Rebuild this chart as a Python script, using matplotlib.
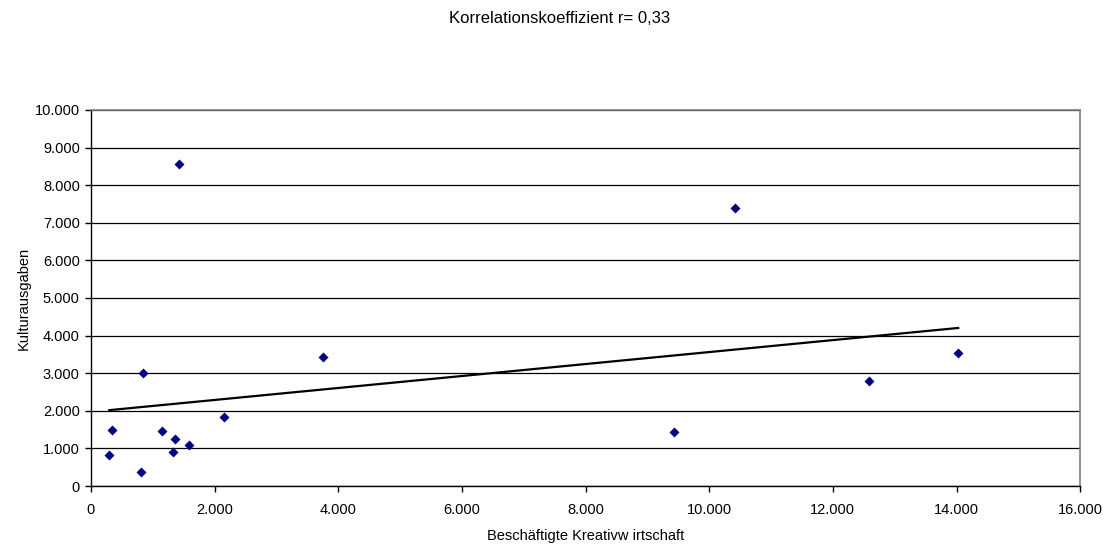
import numpy as np
import matplotlib
matplotlib.use("Agg")
import matplotlib.pyplot as plt
from matplotlib.ticker import FuncFormatter, MultipleLocator

plt.rcParams['font.family'] = ['Liberation Sans', 'DejaVu Sans']

# Beschäftigte in der Kreativwirtschaft vs. Kulturausgaben
beschaeftigte = [298, 336, 812, 842, 1142, 1321, 1364, 1429, 1580, 2149,
                 3747, 9427, 10411, 12589, 14027]
kulturausgaben = [823, 1496, 372, 3000, 1469, 894, 1248, 8575, 1080, 1823,
                  3425, 1426, 7390, 2780, 3532]

title_text = "Korrelationskoeffizient r= 0,33"
x_label = "Beschäftigte Kreativw irtschaft"
y_label = "Kulturausgaben"

x = np.array(beschaeftigte, dtype=float)
y = np.array(kulturausgaben, dtype=float)

fig = plt.figure(figsize=(11.09, 5.47), dpi=100)
ax = fig.add_axes([0.082, 0.1115, 0.892, 0.6875])

# horizontal grid
ax.set_axisbelow(True)
ax.yaxis.grid(True, color='black', linewidth=0.9)
ax.xaxis.grid(False)

ax.scatter(x, y, marker='D', s=26, color='#000080', zorder=3, linewidths=0)

# linear trend line over the data range
slope, intercept = np.polyfit(x, y, 1)
xs = np.array([x.min(), x.max()])
ax.plot(xs, slope * xs + intercept, color='black', linewidth=1.6, zorder=4)

ax.set_xlim(0, 16000)
ax.set_ylim(0, 10000)
ax.xaxis.set_major_locator(MultipleLocator(2000))
ax.yaxis.set_major_locator(MultipleLocator(1000))

fmt = FuncFormatter(lambda v, p: f"{int(v):,}".replace(",", "."))
ax.xaxis.set_major_formatter(fmt)
ax.yaxis.set_major_formatter(fmt)

ax.tick_params(axis='both', direction='out', length=4, width=1,
               color='black', labelsize=10.5)
ax.tick_params(axis='x', pad=8)
ax.tick_params(axis='y', pad=4)

for side in ('left', 'bottom'):
    ax.spines[side].set_color('black')
    ax.spines[side].set_linewidth(1)
for side in ('top', 'right'):
    ax.spines[side].set_color('#808080')
    ax.spines[side].set_linewidth(1.2)

ax.set_xlabel(x_label, fontsize=10.5, labelpad=9)
ax.set_ylabel(y_label, fontsize=10.5, labelpad=3)
fig.text(0.505, 0.966, title_text, ha='center', va='center', fontsize=12)

fig.savefig("out.png", dpi=100)
